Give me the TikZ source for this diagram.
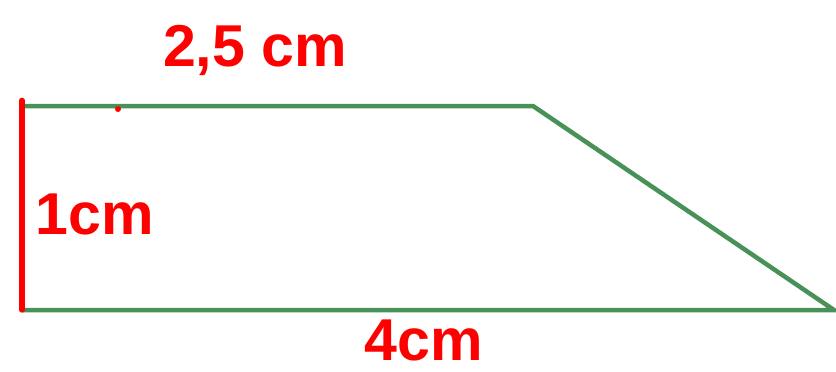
\documentclass[tikz,border=0pt]{standalone}
\usepackage{fontspec}
\setmainfont{Liberation Sans}
\usepackage{tikz}
\usetikzlibrary{positioning}
\definecolor{trapgreen}{RGB}{72, 145, 88}
\definecolor{penred}{RGB}{255, 0, 0}
\tikzset{
  side/.style={draw=trapgreen, line width=3.2pt},
  mark side/.style={draw=penred, line width=3.8pt},
  lbl/.style={text=penred, font=\fontsize{42}{42}\selectfont\bfseries, inner sep=0pt}
}
\begin{document}
\begin{tikzpicture}[x=0.025cm, y=-0.025cm]
\useasboundingbox (0,0) rectangle (836,371);
% Ecken
\coordinate (ol) at (22,106);
\coordinate (or) at (533,106);
\coordinate (ur) at (834,310);
\coordinate (ul) at (22,310);
% Seiten
\draw[side] (ol) -- (or) -- (ur) -- (ul);
\draw[mark side, line cap=round] (ul) -- ([yshift=4pt]ol);
% Punkt
\fill[penred] (118,109) circle (3);
% Beschriftungen
\node[lbl] (oben) at (255,50) {2,5 cm};
\node[lbl] (links) at (95,214) {1cm};
\node[lbl] (unten) at (424,340) {4cm};
\end{tikzpicture}
\end{document}
